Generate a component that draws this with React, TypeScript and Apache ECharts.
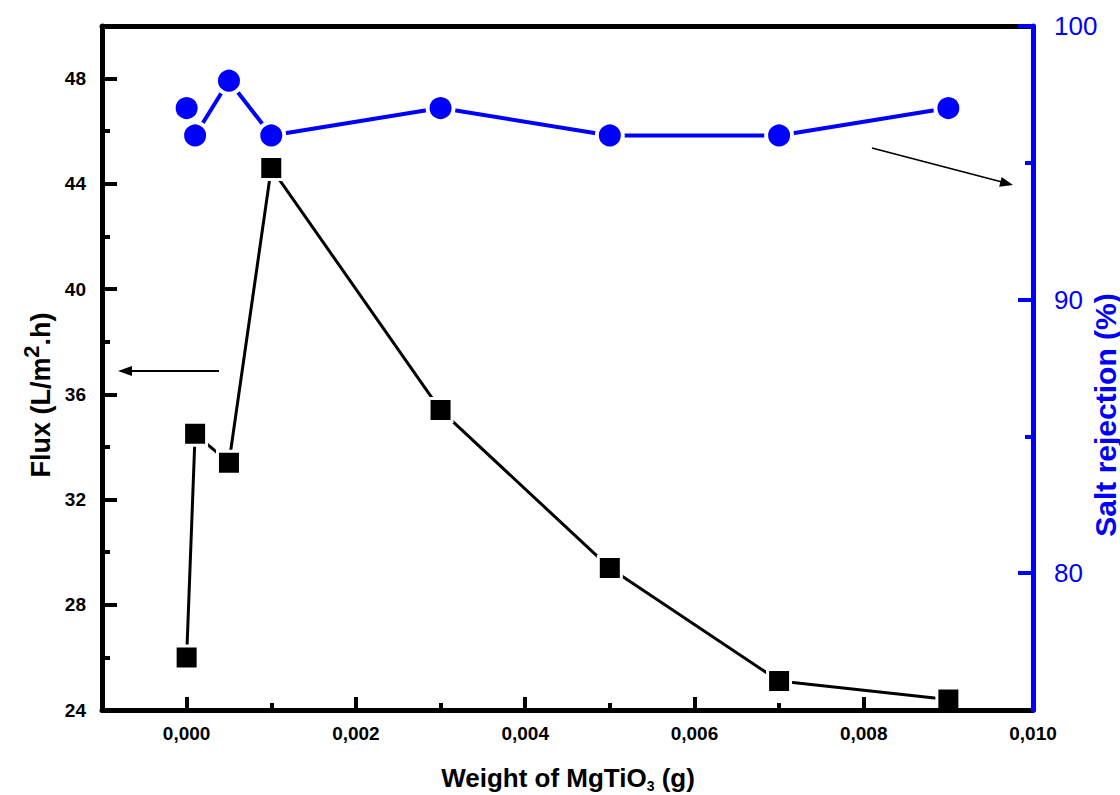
import React, { useEffect, useRef } from "react";
import * as echarts from "echarts";

const weights = [0, 0.0001, 0.0005, 0.001, 0.003, 0.005, 0.007, 0.009];
const flux = [26.0, 34.5, 33.4, 44.6, 35.4, 29.4, 25.1, 24.4];
const saltRejection = [97, 96, 98, 96, 97, 96, 96, 97];

const xMajorTicks = [0, 0.002, 0.004, 0.006, 0.008, 0.01];
const xMinorTicks = [0.001, 0.003, 0.005, 0.007, 0.009];
const fluxMajorTicks = [24, 28, 32, 36, 40, 44, 48];
const fluxMinorTicks = [26, 30, 34, 38, 42, 46];
const saltMajorTicks = [80, 90, 100];
const saltMinorTicks = [85, 95];

const FONT = "'Liberation Sans', Arial, sans-serif";
const BLUE = "#0000ff";

export default function App() {
  const ref = useRef<HTMLDivElement>(null);

  useEffect(() => {
    if (!ref.current) return;
    const chart = echarts.init(ref.current, undefined, { renderer: "svg" });

    const xBase = { type: "value", min: -0.001, max: 0.01, splitLine: { show: false } };
    const fluxBase = { type: "value", min: 24, max: 50, splitLine: { show: false } };
    const saltBase = { type: "value", min: 75, max: 100, splitLine: { show: false } };

    const option: any = {
      animation: false,
      textStyle: { fontFamily: FONT },
      grid: { left: 102, right: 87, top: 26, bottom: 85, containLabel: false },
      xAxis: [
        {
          ...xBase,
          position: "bottom",
          z: 10,
          axisLine: { show: true, onZero: false, lineStyle: { color: "#000", width: 5 } },
          axisTick: { show: true, inside: true, length: 13, customValues: xMajorTicks, lineStyle: { color: "#000", width: 4 } },
          axisLabel: {
            show: true,
            customValues: xMajorTicks,
            margin: 14,
            color: "#000",
            fontSize: 19,
            fontWeight: "bold",
            fontFamily: FONT,
            formatter: (v: number) => v.toFixed(3).replace(".", ","),
          },
        },
        {
          ...xBase,
          position: "bottom",
          z: 10,
          axisLine: { show: false, onZero: false },
          axisTick: { show: true, inside: true, length: 7, customValues: xMinorTicks, lineStyle: { color: "#000", width: 4 } },
          axisLabel: { show: false },
        },
        {
          ...xBase,
          position: "top",
          z: 9,
          axisLine: { show: true, onZero: false, lineStyle: { color: "#000", width: 5 } },
          axisTick: { show: false },
          axisLabel: { show: false },
        },
      ],
      yAxis: [
        {
          ...fluxBase,
          position: "left",
          z: 10,
          axisLine: { show: true, onZero: false, lineStyle: { color: "#000", width: 5 } },
          axisTick: { show: true, inside: true, length: 15, customValues: fluxMajorTicks, lineStyle: { color: "#000", width: 4 } },
          axisLabel: {
            show: true,
            customValues: fluxMajorTicks,
            margin: 16,
            color: "#000",
            fontSize: 19,
            fontWeight: "bold",
            fontFamily: FONT,
          },
        },
        {
          ...fluxBase,
          position: "left",
          z: 10,
          axisLine: { show: false, onZero: false },
          axisTick: { show: true, inside: true, length: 8, customValues: fluxMinorTicks, lineStyle: { color: "#000", width: 4 } },
          axisLabel: { show: false },
        },
        {
          ...saltBase,
          position: "right",
          z: 11,
          axisLine: { show: true, onZero: false, lineStyle: { color: BLUE, width: 5 } },
          axisTick: { show: true, inside: true, length: 15, customValues: saltMajorTicks, lineStyle: { color: BLUE, width: 4 } },
          axisLabel: {
            show: true,
            customValues: saltMajorTicks,
            margin: 21,
            color: BLUE,
            fontSize: 26,
            fontFamily: FONT,
          },
        },
        {
          ...saltBase,
          position: "right",
          z: 11,
          axisLine: { show: false, onZero: false },
          axisTick: { show: true, inside: true, length: 8, customValues: saltMinorTicks, lineStyle: { color: BLUE, width: 4 } },
          axisLabel: { show: false },
        },
      ],
      series: [
        {
          name: "Flux",
          type: "line",
          xAxisIndex: 0,
          yAxisIndex: 0,
          data: weights.map((w, i) => [w, flux[i]]),
          symbol: "rect",
          symbolSize: 23,
          itemStyle: { color: "#000", borderColor: "#fff", borderWidth: 3 },
          lineStyle: { color: "#000", width: 3 },
          emphasis: { disabled: true },
          z: 3,
        },
        {
          name: "Salt rejection",
          type: "line",
          xAxisIndex: 0,
          yAxisIndex: 2,
          data: weights.map((w, i) => [w, saltRejection[i]]),
          symbol: "circle",
          symbolSize: 26,
          itemStyle: { color: BLUE, borderColor: "#fff", borderWidth: 4 },
          lineStyle: { color: BLUE, width: 4 },
          emphasis: { disabled: true },
          z: 4,
        },
      ],
      graphic: [
        {
          type: "text",
          x: 568,
          y: 778,
          style: {
            text: "{a|Weight of MgTiO}{s|3}{a| (g)}",
            align: "center",
            verticalAlign: "middle",
            rich: {
              a: { fontSize: 26, fontWeight: "bold", fontFamily: FONT, fill: "#000", lineHeight: 30, verticalAlign: "middle" },
              s: { fontSize: 14, fontWeight: "bold", fontFamily: FONT, fill: "#000", verticalAlign: "bottom", lineHeight: 30 },
            },
          },
        },
        {
          type: "text",
          x: 37,
          y: 395,
          rotation: Math.PI / 2,
          style: {
            text: "{a|Flux (L/m}{p|2}{a|.h)}",
            align: "center",
            verticalAlign: "middle",
            rich: {
              a: { fontSize: 27, fontWeight: "bold", fontFamily: FONT, fill: "#000", lineHeight: 34, verticalAlign: "bottom" },
              p: { fontSize: 22, fontWeight: "bold", fontFamily: FONT, fill: "#000", lineHeight: 34, verticalAlign: "top" },
            },
          },
        },
        {
          type: "text",
          x: 1105,
          y: 415,
          rotation: Math.PI / 2,
          style: {
            text: "Salt rejection (%)",
            align: "center",
            verticalAlign: "middle",
            fontSize: 30,
            fontWeight: "bold",
            fontFamily: FONT,
            fill: BLUE,
          },
        },
        {
          type: "line",
          shape: { x1: 219, y1: 371, x2: 128, y2: 371 },
          style: { stroke: "#000", lineWidth: 1.8 },
        },
        {
          type: "polygon",
          shape: { points: [[118, 371], [132, 366], [132, 376]] },
          style: { fill: "#000" },
        },
        {
          type: "line",
          shape: { x1: 872, y1: 148, x2: 1002, y2: 182 },
          style: { stroke: "#000", lineWidth: 1.8 },
        },
        {
          type: "polygon",
          shape: { points: [[1013, 185], [999.2, 186.7], [1001.6, 177.0]] },
          style: { fill: "#000" },
        },
      ],
    };

    chart.setOption(option);
    return () => chart.dispose();
  }, []);

  return (
    <div
      ref={ref}
      style={{ position: "absolute", left: 0, top: 0, width: 1120, height: 795, background: "#fff" }}
    />
  );
}
